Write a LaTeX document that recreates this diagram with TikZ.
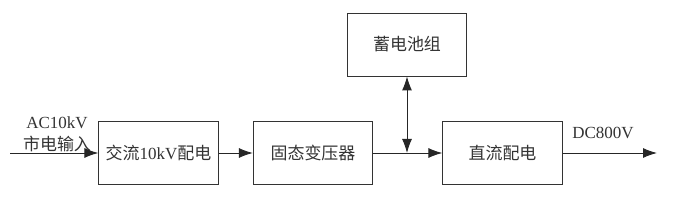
\documentclass[tikz,border=0pt]{standalone}
\usepackage{fontspec}
\setmainfont{Liberation Serif}
\newfontfamily\cjk{Noto Sans CJK SC}
\usepackage{tikz}
\usetikzlibrary{positioning, arrows.meta}

\begin{document}
\begin{tikzpicture}[
    unit/.style={rectangle, draw=black!80, line width=0.8pt, minimum width=3.58cm,
                 minimum height=1.89cm, font=\fontsize{14.5}{16}\selectfont, text=black!80},
    flow/.style={-{Latex[length=4.2mm, width=3mm]}, line width=0.8pt, black!85},
    both flow/.style={{Latex[length=4.2mm, width=3mm]}-{Latex[length=4.2mm, width=3mm]},
                 line width=0.8pt, black!85},
    annot/.style={font=\fontsize{14.5}{19}\selectfont, align=center, text=black!80},
]
    \useasboundingbox (0, 0) rectangle (20.55, 6.09);

    % Blocks
    \node[unit] (acdist) at (4.755, 1.5) {{\cjk 交流}10kV{\cjk 配电}};
    \node[unit] (sst) at (9.39, 1.5) {\cjk 固态变压器};
    \node[unit] (battery) at (12.21, 4.755) {\cjk 蓄电池组};
    \node[unit] (dcdist) at (15.075, 1.5) {\cjk 直流配电};

    % Input and output
    \coordinate (ingrid) at (0.3, 1.5);
    \coordinate (outdc) at (19.71, 1.5);
    \coordinate (bus) at (battery.south |- sst.east);

    % Labels
    \node[annot] (aclabel) at (1.71, 2.06) {AC10kV\\{\cjk 市电输入}};
    \node[annot] (dclabel) at (18.09, 2.1) {DC800V};

    % Arrows
    \draw[flow] (ingrid) -- (acdist.west);
    \draw[flow] (acdist.east) -- (sst.west);
    \draw[flow] (sst.east) -- (dcdist.west);
    \draw[both flow] (battery.south) -- (bus);
    \draw[flow] (dcdist.east) -- (outdc);
\end{tikzpicture}
\end{document}
